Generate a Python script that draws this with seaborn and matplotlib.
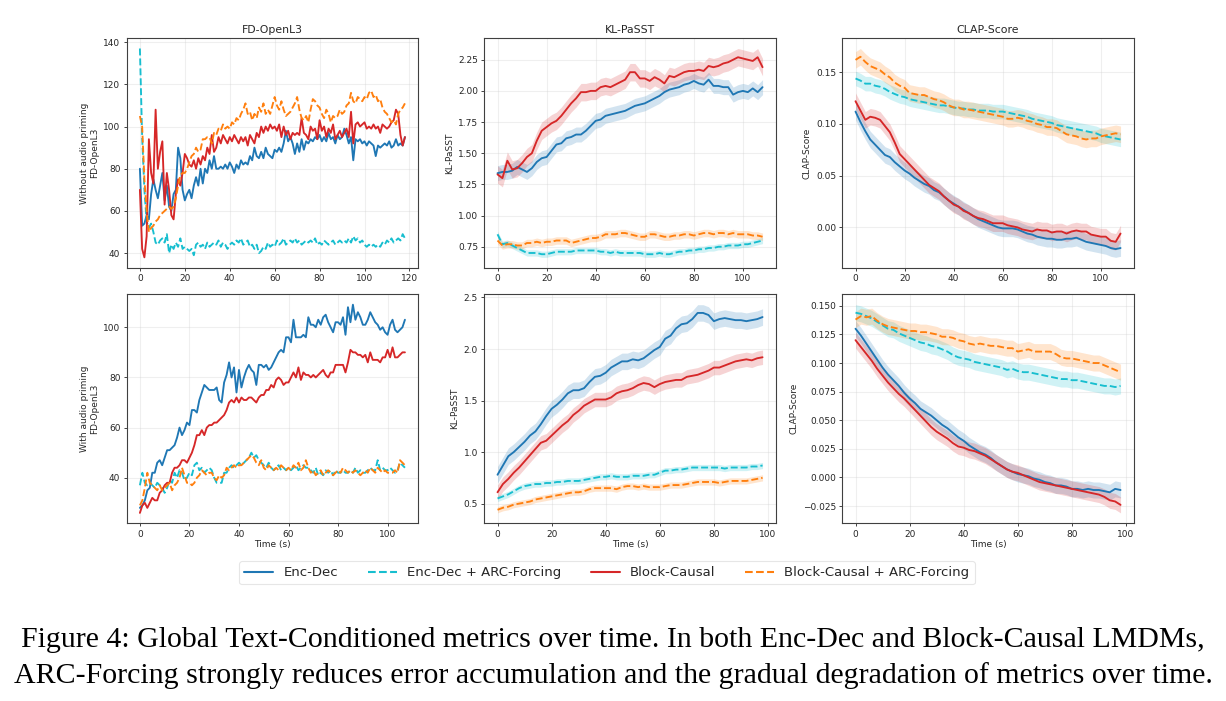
import numpy as np
import seaborn as sns
import matplotlib.pyplot as plt
from matplotlib.lines import Line2D
from matplotlib.ticker import MultipleLocator

# ---- data ----
labels = ['Enc-Dec', 'Enc-Dec + ARC-Forcing', 'Block-Causal', 'Block-Causal + ARC-Forcing']
colors = ['#1f77b4', '#17becf', '#d62728', '#ff7f0e']
styles = ['-', '--', '-', '--']
metric_titles = ['FD-OpenL3', 'KL-PaSST', 'CLAP-Score']
row_labels = ['Without audio priming', 'With audio priming']

# FD-OpenL3, without audio priming (1 s steps)
fd_wo_enc = [80,53,54,58,56,68,75,70,66,72, 78,65,72,62,60,68,70,90,85,70,
             65,68,70,66,72,76,72,80,73,80, 78,84,80,86,80,80,81,80,82,80,
             83,81,78,82,80,84,82,83,82,86, 84,90,86,85,88,85,90,87,86,85,
             89,88,90,88,92,98,93,95,92,87, 92,88,94,89,93,92,94,93,95,94,
             96,93,95,93,97,94,95,92,96,94, 95,99,96,92,95,84,94,93,94,92,
             93,91,93,92,91,86,91,90,91,92, 91,93,90,91,94,91,92,91,95]
fd_wo_enc_arc = [137,95,70,55,52,54,50,45,44,46, 47,45,49,40,44,42,45,43,47,42,
                 43,42,41,42,39,44,45,43,44,42, 45,43,44,45,44,46,43,45,44,42,
                 44,45,44,46,45,47,44,45,46,43, 44,42,44,40,41,43,42,45,43,44,
                 43,46,44,45,47,44,45,46,45,47, 45,46,44,45,46,45,46,45,47,44,
                 45,44,46,45,44,45,46,44,45,46, 45,46,45,47,45,48,46,47,45,46,
                 44,43,44,43,44,43,44,43,45,44, 46,45,47,45,46,47,46,49,47]
fd_wo_blk = [70,42,38,48,94,78,73,108,80,88, 93,63,78,70,58,56,68,75,72,78,
             87,85,82,81,84,80,85,82,86,84, 90,87,96,88,90,95,92,96,94,92,
             95,93,96,94,92,95,93,95,91,96, 94,92,97,95,100,97,100,98,101,99,
             100,98,101,95,100,96,98,94,97,96, 97,96,104,97,96,94,100,98,99,94,
             103,98,100,95,99,97,101,94,96,98, 95,97,99,95,107,92,101,102,100,101,
             102,99,100,99,101,99,100,97,101,100, 99,100,102,103,108,106,96,91,95]
fd_wo_blk_arc = [105,100,75,60,50,52,53,55,56,58, 59,60,61,62,61,62,66,72,77,78,
                 78,80,83,86,87,90,88,89,94,94, 95,95,92,97,96,99,98,101,99,100,
                 99,102,101,104,103,106,108,111,106,107, 103,106,104,109,107,111,106,108,106,110,
                 114,110,108,112,108,105,106,107,109,111, 114,108,104,103,105,102,108,113,112,110,
                 109,106,104,108,106,102,105,104,105,108, 106,107,110,111,116,112,111,114,113,112,
                 114,113,116,117,114,115,112,113,109,107, 106,104,102,103,101,106,108,109,111]

# KL-PaSST, without audio priming (2 s steps)
kl_wo_enc = [1.34,1.35,1.35,1.36,1.39,1.37,1.35,1.38,1.43,1.46, 1.47,1.52,1.57,1.58,1.62,1.63,1.65,1.65,1.68,1.72,
             1.76,1.77,1.80,1.81,1.82,1.83,1.84,1.86,1.88,1.89, 1.90,1.92,1.94,1.96,1.99,2.01,2.02,2.03,2.05,2.06,
             2.08,2.06,2.05,2.09,2.04,2.04,2.03,2.03,1.97,1.99, 2.00,1.99,2.02,1.99,2.03]
kl_wo_enc_arc = [0.85,0.77,0.78,0.76,0.74,0.72,0.70,0.70,0.70,0.69, 0.69,0.70,0.71,0.71,0.71,0.71,0.72,0.72,0.72,0.72,
                 0.72,0.71,0.71,0.70,0.71,0.70,0.70,0.70,0.70,0.70, 0.69,0.69,0.69,0.70,0.69,0.69,0.70,0.71,0.71,0.72,
                 0.72,0.73,0.73,0.74,0.74,0.75,0.75,0.76,0.76,0.76, 0.77,0.77,0.78,0.79,0.80]
kl_wo_blk = [1.33,1.30,1.44,1.37,1.38,1.42,1.47,1.50,1.60,1.68, 1.71,1.74,1.76,1.80,1.85,1.90,1.94,1.99,1.99,2.00,
             2.00,2.03,2.04,2.03,2.05,2.07,2.09,2.15,2.15,2.10, 2.10,2.08,2.11,2.09,2.06,2.12,2.11,2.13,2.15,2.16,
             2.16,2.17,2.16,2.20,2.19,2.20,2.22,2.23,2.25,2.27, 2.26,2.25,2.24,2.27,2.19]
kl_wo_blk_arc = [0.80,0.76,0.77,0.77,0.76,0.76,0.78,0.78,0.79,0.78, 0.79,0.79,0.80,0.80,0.80,0.78,0.79,0.80,0.81,0.82,
                 0.82,0.83,0.85,0.85,0.85,0.86,0.86,0.85,0.84,0.83, 0.83,0.85,0.85,0.84,0.83,0.83,0.84,0.84,0.85,0.85,
                 0.84,0.85,0.86,0.86,0.85,0.86,0.86,0.85,0.86,0.85, 0.85,0.85,0.84,0.84,0.83]

# CLAP-Score, without audio priming (2 s steps)
clap_wo_enc = [0.112,0.102,0.093,0.085,0.080,0.075,0.070,0.068,0.063,0.059, 0.055,0.052,0.048,0.045,0.042,0.040,0.036,0.034,0.030,0.026,
               0.023,0.020,0.017,0.014,0.011,0.008,0.006,0.004,0.002,0.000, -0.001,-0.001,-0.001,-0.002,-0.004,-0.006,-0.007,-0.009,-0.010,-0.011,
               -0.011,-0.012,-0.012,-0.011,-0.011,-0.010,-0.012,-0.014,-0.015,-0.016, -0.017,-0.018,-0.020,-0.021,-0.020]
clap_wo_enc_arc = [0.144,0.142,0.139,0.139,0.137,0.136,0.134,0.131,0.129,0.127, 0.126,0.124,0.123,0.122,0.121,0.120,0.119,0.118,0.118,0.117,
                   0.116,0.115,0.115,0.114,0.114,0.113,0.113,0.113,0.112,0.112, 0.112,0.111,0.110,0.109,0.108,0.107,0.105,0.104,0.103,0.102,
                   0.101,0.099,0.098,0.097,0.096,0.095,0.094,0.093,0.092,0.091, 0.089,0.088,0.087,0.086,0.085]
clap_wo_blk = [0.122,0.113,0.104,0.107,0.106,0.104,0.098,0.092,0.082,0.071, 0.066,0.061,0.056,0.051,0.046,0.041,0.038,0.035,0.030,0.026,
               0.022,0.020,0.016,0.014,0.011,0.009,0.008,0.006,0.004,0.004, 0.004,0.002,0.001,0.000,-0.002,-0.003,-0.004,-0.002,-0.003,-0.003,
               -0.005,-0.004,-0.004,-0.006,-0.004,-0.003,-0.004,-0.004,-0.007,-0.008, -0.009,-0.009,-0.013,-0.014,-0.006]
clap_wo_blk_arc = [0.162,0.165,0.160,0.156,0.154,0.152,0.148,0.145,0.140,0.137, 0.135,0.130,0.129,0.128,0.128,0.126,0.124,0.123,0.121,0.118,
                   0.116,0.116,0.114,0.114,0.113,0.112,0.111,0.110,0.109,0.108, 0.107,0.105,0.105,0.106,0.105,0.103,0.102,0.100,0.099,0.097,
                   0.097,0.096,0.093,0.090,0.089,0.088,0.086,0.085,0.086,0.086, 0.088,0.089,0.090,0.091,0.090]

# FD-OpenL3, with audio priming (1 s steps)
fd_w_enc = [28,29,31,35,36,42,42,46,47,45, 48,51,51,52,53,56,60,57,59,62,
            61,67,67,66,71,74,77,76,75,75, 75,76,71,70,78,81,86,80,84,74,
            83,76,80,83,85,83,82,77,85,85, 84,85,83,84,86,88,90,91,90,96,
            96,94,103,96,96,96,97,96,104,101, 101,100,103,101,104,105,102,100,98,102,
            102,101,104,97,108,102,109,103,106,104, 101,101,103,106,104,102,101,99,100,98,
            97,101,103,99,98,99,100,103]
fd_w_enc_arc = [37,42,38,37,38,37,36,38,37,36, 34,36,39,38,42,40,43,42,39,40,
                42,41,45,46,43,44,42,43,44,43, 40,38,38,38,42,42,44,45,44,45,
                46,45,46,47,48,50,48,49,47,46, 45,44,46,44,43,44,45,43,44,43,
                44,43,44,45,43,44,45,44,44,43, 42,44,41,42,41,43,42,43,41,43,
                42,42,43,42,42,43,42,44,42,43, 42,42,43,44,43,43,47,43,44,43,
                43,44,43,42,43,46,45,44]
fd_w_blk = [26,29,30,28,30,32,31,31,34,35, 37,38,38,42,44,44,45,47,47,46,
            48,50,53,57,57,59,57,60,61,61, 62,62,63,64,65,67,70,71,70,72,
            70,72,71,71,72,72,71,70,72,73, 73,75,75,77,76,79,80,79,77,78,
            78,80,82,80,84,79,82,81,81,80, 81,80,81,82,83,81,80,82,82,85,
            85,85,85,82,86,91,90,90,89,89, 88,89,86,90,87,87,87,86,88,88,
            91,88,92,88,88,89,90,90]
fd_w_blk_arc = [29,31,36,42,38,37,36,35,37,35, 36,37,38,35,37,38,40,44,41,38,
                38,37,38,40,41,43,42,41,42,42, 40,39,41,40,41,44,43,44,45,44,
                45,45,46,47,48,49,48,46,45,47, 44,43,45,44,43,44,43,45,44,43,
                44,43,45,44,46,43,44,47,44,42, 43,41,42,43,41,42,43,42,41,42,
                43,42,44,43,42,43,42,43,42,41, 42,43,42,44,43,42,44,43,42,43,
                42,42,42,43,42,47,46,45]

# KL-PaSST, with audio priming (2 s steps)
kl_w_enc = [0.78,0.87,0.96,1.00,1.05,1.10,1.16,1.20,1.27,1.35, 1.42,1.46,1.51,1.57,1.60,1.60,1.62,1.68,1.73,1.74,
            1.77,1.82,1.85,1.88,1.88,1.90,1.89,1.91,1.95,1.99, 2.02,2.10,2.13,2.20,2.24,2.25,2.29,2.35,2.35,2.33,
            2.27,2.29,2.30,2.29,2.28,2.28,2.27,2.28,2.29,2.31]
kl_w_enc_arc = [0.55,0.57,0.59,0.62,0.65,0.67,0.68,0.69,0.69,0.70, 0.70,0.71,0.71,0.72,0.72,0.72,0.73,0.74,0.75,0.76,
                0.76,0.77,0.76,0.76,0.76,0.77,0.77,0.77,0.78,0.78, 0.80,0.82,0.82,0.83,0.83,0.84,0.85,0.85,0.85,0.85,
                0.85,0.85,0.84,0.85,0.85,0.85,0.85,0.86,0.86,0.87]
kl_w_blk = [0.61,0.69,0.74,0.80,0.85,0.91,0.97,1.03,1.09,1.11, 1.16,1.21,1.26,1.30,1.36,1.40,1.45,1.48,1.51,1.51,
            1.51,1.53,1.57,1.59,1.60,1.62,1.65,1.67,1.66,1.63, 1.66,1.68,1.69,1.70,1.70,1.73,1.74,1.75,1.77,1.79,
            1.82,1.82,1.84,1.86,1.88,1.89,1.90,1.89,1.91,1.92]
kl_w_blk_arc = [0.44,0.46,0.47,0.49,0.50,0.51,0.52,0.54,0.55,0.56, 0.57,0.58,0.59,0.60,0.61,0.61,0.62,0.64,0.65,0.65,
                0.65,0.65,0.64,0.66,0.67,0.67,0.66,0.67,0.66,0.66, 0.66,0.67,0.68,0.68,0.68,0.69,0.70,0.71,0.71,0.71,
                0.71,0.70,0.71,0.72,0.72,0.72,0.72,0.73,0.74,0.75]

# CLAP-Score, with audio priming (2 s steps)
clap_w_enc = [0.130,0.124,0.117,0.110,0.103,0.096,0.090,0.085,0.080,0.074, 0.069,0.065,0.060,0.057,0.054,0.050,0.046,0.043,0.039,0.035,
              0.032,0.028,0.025,0.022,0.020,0.017,0.013,0.010,0.007,0.005, 0.003,0.002,0.001,-0.001,-0.002,-0.004,-0.005,-0.007,-0.007,-0.008,
              -0.010,-0.010,-0.011,-0.010,-0.011,-0.011,-0.012,-0.013,-0.010,-0.011]
clap_w_enc_arc = [0.144,0.143,0.141,0.139,0.136,0.133,0.130,0.129,0.126,0.124, 0.122,0.120,0.118,0.117,0.115,0.114,0.112,0.110,0.107,0.105,
                  0.104,0.103,0.101,0.100,0.099,0.098,0.097,0.096,0.094,0.095, 0.093,0.092,0.092,0.091,0.090,0.089,0.088,0.087,0.086,0.086,
                  0.085,0.085,0.084,0.083,0.082,0.081,0.080,0.080,0.079,0.080]
clap_w_blk = [0.120,0.114,0.108,0.102,0.095,0.089,0.083,0.078,0.073,0.069, 0.064,0.059,0.054,0.049,0.044,0.040,0.037,0.034,0.030,0.027,
              0.026,0.024,0.023,0.021,0.019,0.016,0.013,0.010,0.007,0.005, 0.004,0.002,0.000,-0.002,-0.004,-0.005,-0.006,-0.007,-0.008,-0.009,
              -0.010,-0.011,-0.012,-0.013,-0.014,-0.015,-0.017,-0.020,-0.021,-0.024]
clap_w_blk_arc = [0.138,0.141,0.140,0.141,0.137,0.134,0.132,0.131,0.130,0.129, 0.128,0.128,0.127,0.127,0.126,0.125,0.123,0.123,0.122,0.120,
                  0.119,0.117,0.116,0.117,0.116,0.115,0.115,0.114,0.113,0.113, 0.110,0.111,0.112,0.110,0.110,0.110,0.110,0.108,0.105,0.104,
                  0.104,0.103,0.102,0.101,0.100,0.100,0.098,0.096,0.094,0.092]

# half-width of the shaded bands (order: enc, enc+arc, blk, blk+arc)
kl_wo_err = [0.06, 0.025, 0.07, 0.03]
clap_wo_err = [0.008, 0.007, 0.008, 0.008]
kl_w_err = [0.08, 0.03, 0.07, 0.03]
clap_w_err = [0.007, 0.007, 0.007, 0.007]

# y tick spacing per panel
ytick_steps = [20, 0.25, 0.05, 20, 0.5, 0.025]

panels = [
    [(fd_wo_enc, fd_wo_enc_arc, fd_wo_blk, fd_wo_blk_arc), 1, None],
    [(kl_wo_enc, kl_wo_enc_arc, kl_wo_blk, kl_wo_blk_arc), 2, kl_wo_err],
    [(clap_wo_enc, clap_wo_enc_arc, clap_wo_blk, clap_wo_blk_arc), 2, clap_wo_err],
    [(fd_w_enc, fd_w_enc_arc, fd_w_blk, fd_w_blk_arc), 1, None],
    [(kl_w_enc, kl_w_enc_arc, kl_w_blk, kl_w_blk_arc), 2, kl_w_err],
    [(clap_w_enc, clap_w_enc_arc, clap_w_blk, clap_w_blk_arc), 2, clap_w_err],
]

sns.set_theme(style="ticks", rc={
    'axes.edgecolor': '0.25', 'axes.linewidth': 0.8,
    'xtick.labelsize': 6.5, 'ytick.labelsize': 6.5,
    'xtick.major.size': 2.5, 'ytick.major.size': 2.5,
    'xtick.major.width': 0.6, 'ytick.major.width': 0.6,
    'xtick.color': '0.15', 'ytick.color': '0.15',
    'axes.labelsize': 6.5, 'axes.titlesize': 7.8,
})
plt.rcParams['font.family'] = ['DejaVu Sans']

fig = plt.figure(figsize=(12.26, 7.01), dpi=100)
lefts = [0.1033, 0.395, 0.687]
rows = [(0.618, 0.3277), (0.2535, 0.3267)]

for i, (series, step, errs) in enumerate(panels):
    r, c = divmod(i, 3)
    ax = fig.add_axes([lefts[c], rows[r][0], 0.2378, rows[r][1]])
    for k, vals in enumerate(series):
        t = np.arange(len(vals)) * step
        y = np.array(vals, dtype=float)
        if errs is not None:
            ax.fill_between(t, y - errs[k], y + errs[k], color=colors[k], alpha=0.2, lw=0)
        sns.lineplot(x=t, y=y, ax=ax, color=colors[k], linestyle=styles[k], lw=1.35)
    ax.yaxis.set_major_locator(MultipleLocator(ytick_steps[i]))
    ax.grid(True, alpha=0.3, lw=0.8)
    if r == 0:
        ax.set_title(metric_titles[c], pad=4)
    else:
        ax.set_xlabel('Time (s)', labelpad=1)
    if c == 0:
        ax.set_ylabel(row_labels[r] + '\nFD-OpenL3', labelpad=3)
    else:
        ax.set_ylabel(metric_titles[c], labelpad=3)
    ax.tick_params(pad=2)

handles = [Line2D([0], [0], color=colors[k], ls=styles[k], lw=1.5) for k in range(4)]
leg = fig.legend(handles, labels, loc='center', bbox_to_anchor=(0.495, 0.183), ncol=4,
                 fontsize=9.5, frameon=True, columnspacing=2.2, handlelength=2.2,
                 borderpad=0.4)
leg.get_frame().set_edgecolor('0.88')
leg.get_frame().set_linewidth(0.8)

cap1 = ('Figure 4: Global Text-Conditioned metrics over time. In both Enc-Dec and '
        'Block-Causal LMDMs,')
cap2 = ('ARC-Forcing strongly reduces error accumulation and the gradual degradation '
        'of metrics over time.')
fig.text(0.5, 0.087, cap1, ha='center', va='center', family='Liberation Serif',
         fontsize=21.5, color='black')
fig.text(0.5, 0.037, cap2, ha='center', va='center', family='Liberation Serif',
         fontsize=21.5, color='black')

fig.savefig('out.png', dpi=100, facecolor='white')
